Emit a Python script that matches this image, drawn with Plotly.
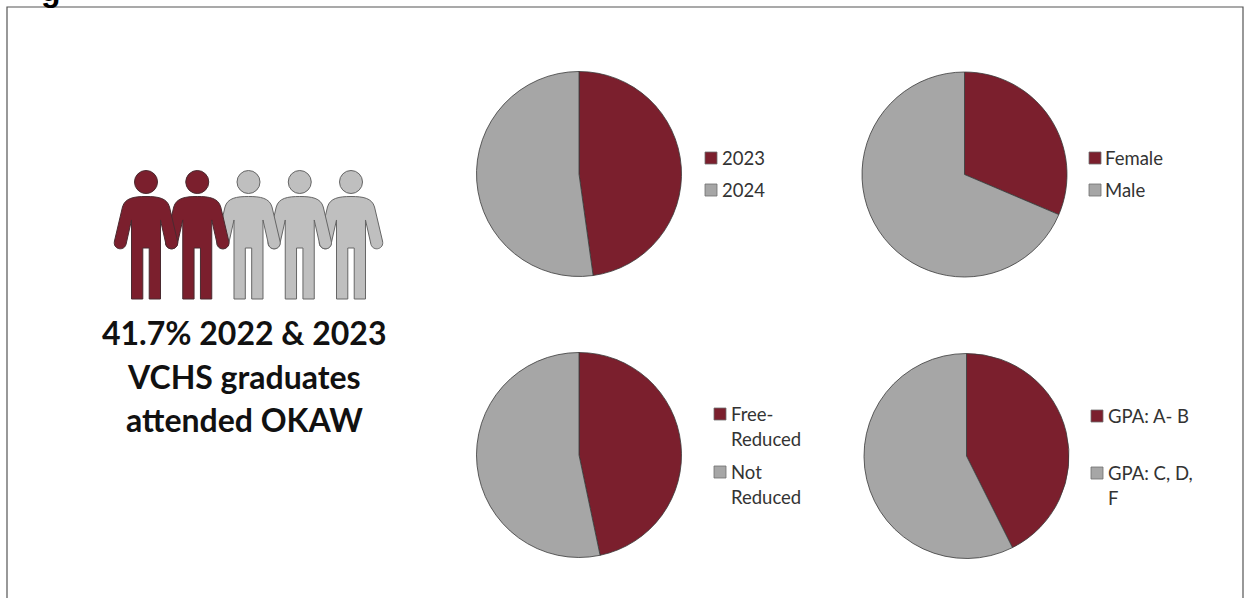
import plotly.graph_objects as go

W, H = 1244, 598
MAROON = "#7B1F2D"
GRAY = "#A6A6A6"
PERSON_GRAY = "#BFBFBF"
TEXT = "#333333"
FONT = "Lato, 'Open Sans', sans-serif"

# Share of students in the first group of each split (percent)
cohort_labels = ["2023", "2024"]
cohort_values = [47.8, 52.2]
gender_labels = ["Female", "Male"]
gender_values = [31.4, 68.6]
lunch_labels = ["Free-\nReduced", "Not\nReduced"]
lunch_values = [46.7, 53.3]
gpa_labels = ["GPA: A- B", "GPA: C, D,\nF"]
gpa_values = [42.6, 57.4]

people_total = 5
people_attended = 2
headline = ["41.7% 2022 & 2023", "VCHS graduates", "attended OKAW"]


def fx(x):
    return x / W


def fy(y):
    return 1 - y / H


def pie(labels, values, cx, cy, r):
    return go.Pie(
        labels=[s.replace("\n", " ") for s in labels],
        values=values,
        sort=False,
        direction="clockwise",
        rotation=0,
        textinfo="none",
        showlegend=False,
        marker=dict(colors=[MAROON, GRAY], line=dict(color="#3A3A3A", width=0.8)),
        domain=dict(x=[fx(cx - r), fx(cx + r)], y=[fy(cy + r), fy(cy - r)]),
    )


fig = go.Figure([
    pie(cohort_labels, cohort_values, 579, 174, 102.5),
    pie(gender_labels, gender_values, 964.5, 174.5, 102.5),
    pie(lunch_labels, lunch_values, 579, 455, 102.5),
    pie(gpa_labels, gpa_values, 966.5, 456, 102.5),
])

shapes = []
annotations = []

# Panel frame, open at the bottom edge of the page
frame = f"M{fx(7)},{fy(H + 5)} L{fx(7)},{fy(7)} L{fx(1243)},{fy(7)} L{fx(1243)},{fy(H + 5)}"
shapes.append(dict(type="path", xref="paper", yref="paper", path=frame,
                   line=dict(color="#555555", width=1.2)))


def person_path(c):
    # Outline of one figure, centred on x = c
    half = [
        ("C", [(12, 196.5), (21, 198), (23.5, 207)]),
        ("L", [(31.5, 241)]),
        ("C", [(33.5, 249), (22.5, 252), (20, 244.5)]),
        ("L", [(14.5, 220)]),
        ("L", [(14.5, 299)]),
        ("L", [(3.2, 299)]),
        ("L", [(3.2, 248)]),
    ]
    pt = lambda dx, y: f"{fx(c + dx):.5f},{fy(y):.5f}"
    d = "M" + pt(0, 196.5)
    for cmd, pts in half:
        d += " " + cmd + " ".join(pt(dx, y) for dx, y in pts)
    d += " L" + pt(-3.2, 248) + " L" + pt(-3.2, 299) + " L" + pt(-14.5, 299)
    d += " L" + pt(-14.5, 220) + " L" + pt(-20, 244.5)
    d += " C" + " ".join(pt(dx, y) for dx, y in [(-22.5, 252), (-33.5, 249), (-31.5, 241)])
    d += " L" + pt(-23.5, 207)
    d += " C" + " ".join(pt(dx, y) for dx, y in [(-21, 198), (-12, 196.5), (0, 196.5)])
    return d + " Z"


# Figures are painted right to left so each one overlaps its right-hand neighbour
for i in reversed(range(people_total)):
    c = 146 + 51.25 * i
    dark = i < people_attended
    fill = MAROON if dark else PERSON_GRAY
    edge = "#4A2A30" if dark else "#666666"
    shapes.append(dict(type="path", xref="paper", yref="paper", path=person_path(c),
                       fillcolor=fill, line=dict(color=edge, width=1)))
    shapes.append(dict(type="circle", xref="paper", yref="paper",
                       x0=fx(c - 11.5), x1=fx(c + 11.5), y0=fy(182 + 11.5), y1=fy(182 - 11.5),
                       fillcolor=fill, line=dict(color=edge, width=1)))

for line, y in zip(headline, [332, 376, 419]):
    annotations.append(dict(text=f"<b>{line}</b>", xref="paper", yref="paper",
                            x=fx(244), y=fy(y), xanchor="center", yanchor="middle",
                            showarrow=False, font=dict(family=FONT, size=32, color="#111111")))


def legend(labels, swatch_x, text_x, rows):
    # rows holds the vertical centre of every text line, one list per entry
    for label, ys, colour in zip(labels, rows, [MAROON, GRAY]):
        y0 = ys[0]
        shapes.append(dict(type="rect", xref="paper", yref="paper",
                           x0=fx(swatch_x), x1=fx(swatch_x + 12),
                           y0=fy(y0 + 6), y1=fy(y0 - 6),
                           fillcolor=colour, line=dict(color="#6E6E6E", width=0.8)))
        for part, y in zip(label.split("\n"), ys):
            annotations.append(dict(text=part, xref="paper", yref="paper",
                                    x=fx(text_x - 2), y=fy(y), xanchor="left", yanchor="middle",
                                    showarrow=False,
                                    font=dict(family=FONT, size=18.5, color=TEXT)))


legend(cohort_labels, 705, 722, [[158], [190]])
legend(gender_labels, 1089, 1105, [[158], [190]])
legend(lunch_labels, 714, 731, [[414, 439], [472, 497]])
legend(gpa_labels, 1091, 1108, [[416], [473, 498]])

# Heading sits mostly above the page, leaving only its descender visible
annotations.append(dict(text="<b>g</b>", xref="paper", yref="paper",
                        x=fx(51), y=fy(6), xanchor="center", yanchor="bottom",
                        yshift=-4, showarrow=False,
                        font=dict(family="'Liberation Sans', sans-serif", size=32, color="#000000")))

fig.update_layout(
    width=W, height=H,
    margin=dict(l=0, r=0, t=0, b=0),
    paper_bgcolor="white",
    shapes=shapes,
    annotations=annotations,
)

fig.write_html("out.html", config=dict(displayModeBar=False))
